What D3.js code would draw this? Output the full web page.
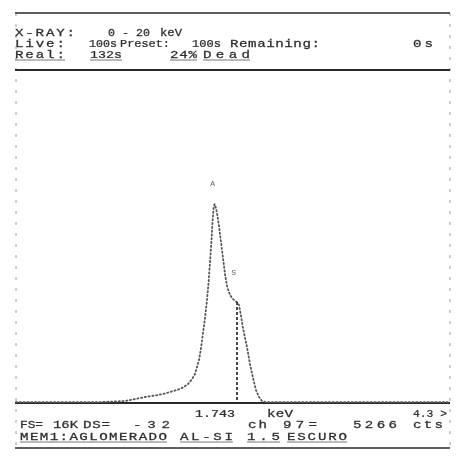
<!DOCTYPE html>
<html>
<head>
<meta charset="utf-8">
<script src="https://cdn.jsdelivr.net/npm/d3@7"></script>
<style>
  html, body { margin: 0; padding: 0; background: #fff; }
  svg { display: block; }
</style>
</head>
<body>
<div id="chart"></div>
<script>
// ---- Spectrum data (energy in keV, counts per channel) ----
const energyKeV = [-0.910, -0.382, 0.098, 0.398, 0.518, 0.639, 0.759, 0.855, 0.939, 1.023,
  1.095, 1.155, 1.203, 1.239, 1.263, 1.287, 1.311, 1.335, 1.359, 1.383,
  1.401, 1.419, 1.437, 1.449, 1.461, 1.473, 1.491, 1.509, 1.527, 1.551,
  1.575, 1.599, 1.623, 1.659, 1.695, 1.719, 1.743, 1.767, 1.791, 1.815,
  1.839, 1.863, 1.899, 1.935, 1.971, 2.007, 2.043, 2.091, 2.499, 3.100,
  3.700, 4.300];
const counts = [40, 40, 45, 104, 209, 313, 391, 469, 574, 678,
  808, 991, 1252, 1512, 1877, 2242, 2868, 3651, 4433, 5371,
  6258, 7353, 8500, 9439, 10117, 10378, 10169, 9752, 9230, 8396,
  7562, 6727, 6101, 5632, 5423, 5340, 5266, 5100, 4560, 3900,
  3400, 2920, 2034, 1304, 678, 313, 104, 45, 40, 40,
  40, 40];

// Cursor readout
const cursorKeV = 1.743;
const cursorChannel = 97;
const cursorCounts = 5266;

// Element markers drawn above the peaks
const markerLabels = ["A", "S"];
const markerKeV = [1.486, 1.740];
const markerCounts = [10378, 5340];

// Display range and full scale
const energyRange = [-0.91, 4.30];
const fullScale = 16384;

// Header and footer text
const headerLines = [
  ["X-RAY:", "0 - 20", "keV"],
  ["Live:", "100s", "Preset:", "100s", "Remaining:", "0s"],
  ["Real:", "132s", "24%", "Dead"]
];
const footerLines = [
  [cursorKeV.toFixed(3), "keV", "4.3 >"],
  ["FS=", "16K", "DS=", "-32", "ch", cursorChannel + "=", String(cursorCounts), "cts"],
  ["MEM1:AGLOMERADO", "AL-SI", "1.5", "ESCURO"]
];

// ---- Layout ----
const W = 458, H = 459;
const frame = { left: 16, right: 450, top: 13, sep: 70, axis: 403, bottom: 448 };
const headerBase = [35.5, 46.5, 57.5];
const footerBase = [416.5, 428, 439.5];
const headerSpans = [
  [[15, 75], [108, 150], [160, 182]],
  [[15, 65], [89, 117], [120, 170], [192, 221], [230, 320], [413, 433]],
  [[15, 65], [90, 122], [170, 197], [203, 250]]
];
const footerSpans = [
  [[195, 235], [267, 293], [413, 447]],
  [[20, 43], [53, 78], [83, 110], [133, 170], [248, 267], [283, 317], [353, 397], [413, 443]],
  [[20, 167], [180, 233], [247, 280], [287, 347]]
];
const underlinedRow = { header: 2, footer: 2 };
const maxGlyphStretch = 1.35;

const ink = "#2e2e2e";
const monoFont = "'Liberation Mono', 'DejaVu Sans Mono', monospace";

const svg = d3.select("#chart").append("svg")
  .attr("width", W).attr("height", H)
  .attr("viewBox", `0 0 ${W} ${H}`);

const defs = svg.append("defs");
defs.append("filter").attr("id", "soft")
  .append("feGaussianBlur").attr("stdDeviation", 0.35);

svg.append("rect").attr("width", W).attr("height", H).attr("fill", "#fff");

const x = d3.scaleLinear().domain(energyRange).range([frame.left, frame.right]);
const y = d3.scaleLinear().domain([0, fullScale]).range([frame.axis, 89]);

const g = svg.append("g").attr("filter", "url(#soft)");

// Frame: dashed side borders
[frame.left, frame.right].forEach(xx => {
  g.append("line")
    .attr("x1", xx).attr("x2", xx)
    .attr("y1", frame.top).attr("y2", frame.bottom)
    .attr("stroke", "#9a9a9a").attr("stroke-width", 1)
    .attr("stroke-dasharray", "3,8");
});

// Frame: horizontal rules
[[frame.top, 1.6], [frame.sep, 2], [frame.axis, 2], [frame.bottom, 1.6]].forEach(([yy, w]) => {
  g.append("line")
    .attr("x1", frame.left - 1).attr("x2", frame.right)
    .attr("y1", yy).attr("y2", yy)
    .attr("stroke", "#2a2a2a").attr("stroke-width", w);
});

// Text rows: glyphs widened a little (wide terminal font), then letter
// spacing fills each token's column span
function drawRows(lines, spans, bases, ulRow) {
  lines.forEach((tokens, r) => {
    tokens.forEach((t, i) => {
      const [x0, x1] = spans[r][i];
      const span = x1 - x0;
      const txt = g.append("text")
        .attr("x", 0).attr("y", 0)
        .attr("font-family", monoFont)
        .attr("font-size", 10.5)
        .attr("fill", ink)
        .attr("stroke", ink).attr("stroke-width", 0.25)
        .text(t);
      const natural = txt.node().getComputedTextLength();
      const sx = Math.min(maxGlyphStretch, span / natural);
      txt.attr("transform", `translate(${x0},${bases[r]}) scale(${sx},1)`)
        .attr("textLength", span / sx)
        .attr("lengthAdjust", "spacing");
      if (r === ulRow) {
        g.append("line")
          .attr("x1", x0).attr("x2", x1)
          .attr("y1", bases[r] + 2.5).attr("y2", bases[r] + 2.5)
          .attr("stroke", "#555").attr("stroke-width", 0.8);
      }
    });
  });
}
drawRows(headerLines, headerSpans, headerBase, underlinedRow.header);
drawRows(footerLines, footerSpans, footerBase, underlinedRow.footer);

// Spectrum trace, drawn as a dotted line
const spectrum = energyKeV.map((e, i) => [e, counts[i]]);
const line = d3.line().x(d => x(d[0])).y(d => y(d[1]));
g.append("path")
  .datum(spectrum)
  .attr("d", line)
  .attr("fill", "none")
  .attr("stroke", "#555")
  .attr("stroke-width", 1.8)
  .attr("stroke-linecap", "round")
  .attr("stroke-dasharray", "1.2,2.6");

// Cursor line at the selected energy
g.append("line")
  .attr("x1", x(cursorKeV)).attr("x2", x(cursorKeV))
  .attr("y1", y(cursorCounts)).attr("y2", y(0))
  .attr("stroke", "#333").attr("stroke-width", 1.8)
  .attr("stroke-dasharray", "3,2");

// Element markers
markerLabels.forEach((lab, i) => {
  g.append("text")
    .attr("x", x(markerKeV[i]) - 3)
    .attr("y", y(markerCounts[i]) - 18 - i * 8)
    .attr("text-anchor", "middle")
    .attr("font-family", monoFont)
    .attr("font-size", 8)
    .attr("fill", "#666")
    .text(lab);
});
</script>
</body>
</html>
